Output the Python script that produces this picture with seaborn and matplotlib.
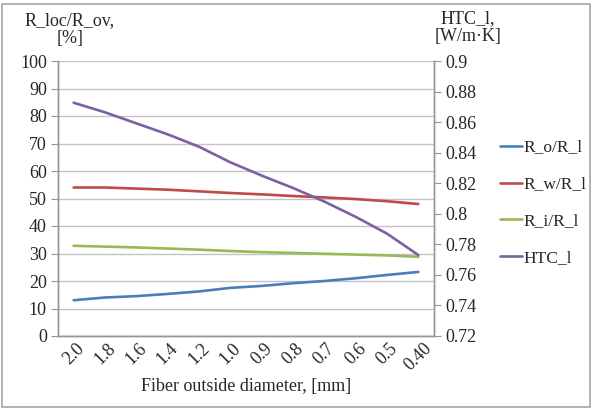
import numpy as np
import pandas as pd
import matplotlib
matplotlib.use("Agg")
import matplotlib.pyplot as plt
import seaborn as sns
from matplotlib.patches import Rectangle

# --- data ---
diameters = ["2.0", "1.8", "1.6", "1.4", "1.2", "1.0", "0.9", "0.8", "0.7", "0.6", "0.5", "0.40"]
r_o = [13.0, 14.0, 14.5, 15.3, 16.2, 17.5, 18.2, 19.2, 20.0, 21.0, 22.2, 23.3]
r_w = [54.0, 54.0, 53.6, 53.2, 52.6, 52.0, 51.5, 50.9, 50.4, 49.8, 49.0, 48.0]
r_i = [32.8, 32.5, 32.2, 31.8, 31.4, 30.9, 30.5, 30.2, 29.9, 29.6, 29.3, 28.8]
htc = [0.8727, 0.8664, 0.8592, 0.8520, 0.8439, 0.8337, 0.8250, 0.8169, 0.8080, 0.7980, 0.7870, 0.7730]

series_names = ["R_o/R_l", "R_w/R_l", "R_i/R_l"]
colors = {"R_o/R_l": "#4A7EBB", "R_w/R_l": "#BE4B48", "R_i/R_l": "#98B954", "HTC_l": "#7D60A0"}

pos = np.arange(len(diameters))
df = pd.DataFrame({
    "pos": np.tile(pos, 3),
    "value": r_o + r_w + r_i,
    "series": np.repeat(series_names, len(diameters)),
})
df_htc = pd.DataFrame({"pos": pos, "HTC_l": htc})

sns.set_style("white")
plt.rcParams["font.family"] = ["Liberation Serif", "DejaVu Serif"]
FS = 13
plt.rcParams["font.size"] = FS

grid_c = "#C4C4C4"
axis_c = "#969696"
text_c = "#262626"

fig = plt.figure(figsize=(5.94, 4.09), dpi=100)
ax = fig.add_axes([58 / 594, 1 - 336 / 409, (434 - 58) / 594, (336 - 61) / 409])

sns.lineplot(data=df, x="pos", y="value", hue="series", palette=colors,
             sort=False, linewidth=1.9, ax=ax, legend=False)
ax2 = ax.twinx()
sns.lineplot(data=df_htc, x="pos", y="HTC_l", color=colors["HTC_l"],
             sort=False, linewidth=1.9, ax=ax2, legend=False)

ax.set_xlim(-0.5, len(diameters) - 0.5)
ax.set_ylim(0, 100)
ax.set_yticks(np.arange(0, 101, 10))
ax2.set_ylim(0.72, 0.9)
ax2.set_yticks(np.round(np.arange(0.72, 0.901, 0.02), 2))
ax2.set_yticklabels(["0.72", "0.74", "0.76", "0.78", "0.8", "0.82", "0.84", "0.86", "0.88", "0.9"])

ax.set_xticks(pos)
ax.set_xticklabels(diameters, rotation=45, ha="center", va="top")
ax.set_xticks(np.arange(-0.5, len(diameters)), minor=True)
ax.tick_params(axis="x", which="major", length=0, pad=3, labelcolor=text_c)
ax.tick_params(axis="x", which="minor", length=5, color=axis_c, direction="out")
ax.tick_params(axis="y", length=5, color=axis_c, direction="out", pad=3, labelcolor=text_c)
ax2.tick_params(axis="y", length=5, color=axis_c, direction="out", pad=3, labelcolor=text_c)

ax.yaxis.grid(True, color=grid_c, linewidth=1)
ax.xaxis.grid(False)
ax2.grid(False)
ax.set_xlabel("Fiber outside diameter, [mm]", labelpad=3, color=text_c)
ax.set_ylabel("")
ax2.set_ylabel("")

for a in (ax, ax2):
    a.spines["top"].set_visible(False)
    for s in ("left", "right", "bottom"):
        a.spines[s].set_color(axis_c)
        a.spines[s].set_linewidth(1)

fig.text(70 / 594, 1 - 12 / 409, "R_loc/R_ov,\n[%]", ha="center", va="top",
         linespacing=1.05, fontsize=FS, color=text_c)
fig.text(468 / 594, 1 - 10 / 409, "HTC_l,\n[W/m·K]", ha="center", va="top",
         linespacing=1.05, fontsize=FS, color=text_c)

handles = [plt.Line2D([], [], color=colors[n], linewidth=1.9) for n in series_names + ["HTC_l"]]
fig.legend(handles, series_names + ["HTC_l"], loc="center left",
           bbox_to_anchor=(484 / 594, 1 - 203 / 409), frameon=False,
           handlelength=1.3, handletextpad=0.1, labelspacing=1.2, fontsize=12.5,
           labelcolor=text_c)

fig.add_artist(Rectangle((2 / 594, 2 / 409), 588 / 594, 403 / 409, transform=fig.transFigure,
                         fill=False, edgecolor="#A6A6A6", linewidth=1.2))

fig.savefig("out.png", dpi=100)
